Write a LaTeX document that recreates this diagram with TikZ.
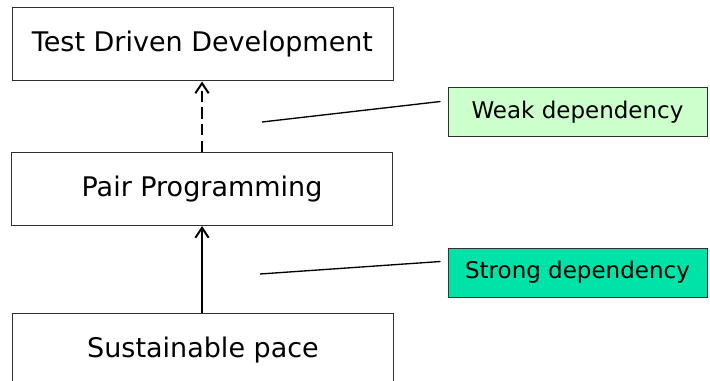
\documentclass[tikz,border=0pt]{standalone}
\usepackage{fontspec}
\setmainfont{DejaVu Sans}
\usetikzlibrary{arrows.meta,positioning,calc}
\definecolor{weakfill}{HTML}{CCFFCC}
\definecolor{strongfill}{HTML}{00E3A8}
\definecolor{rim}{HTML}{303030}
\tikzset{
  practice/.style={draw=rim,line width=0.75pt,fill=white,inner sep=0pt,
                   minimum width=285.75pt,minimum height=54.75pt,
                   font=\fontsize{20.25}{24}\selectfont},
  legend/.style={draw=rim,line width=0.75pt,inner sep=0pt,
                 minimum width=194.25pt,minimum height=36.75pt,
                 font=\fontsize{17.25}{20}\selectfont},
  depends/.style={-{Straight Barb[length=7.5pt,width=10pt]},line width=1.5pt},
  weakdep/.style={depends,dash pattern=on 8.5pt off 4pt},
  pointer/.style={line width=1pt},
}
\begin{document}
\begin{tikzpicture}[x=0.75pt,y=-0.75pt]
  \clip (0,0) rectangle (710,381);

  % practices, top to bottom
  \node[practice] (tdd)  at (202.5,44.5) {Test Driven Development};
  \node[practice] (pair) at (202,189)    {Pair Programming};
  \node[practice] (pace) at (203,350)    {Sustainable pace};

  \draw[weakdep] (pair.north) -- (tdd.south -| pair.north);
  \draw[depends] (pace.north -| pair.south) -- (pair.south);

  % legend
  \node[legend,fill=weakfill]   (weak)   at (577.5,112.5) {Weak dependency};
  \node[legend,fill=strongfill] (strong) at (577.5,272.5) {Strong dependency};

  \coordinate (weakpt)   at (262,122);
  \coordinate (strongpt) at (260,274);
  \draw[pointer] (weakpt)   -- ($(weak.west)+(-7,-11)$);
  \draw[pointer] (strongpt) -- ($(strong.west)+(-7,-11)$);
\end{tikzpicture}
\end{document}
